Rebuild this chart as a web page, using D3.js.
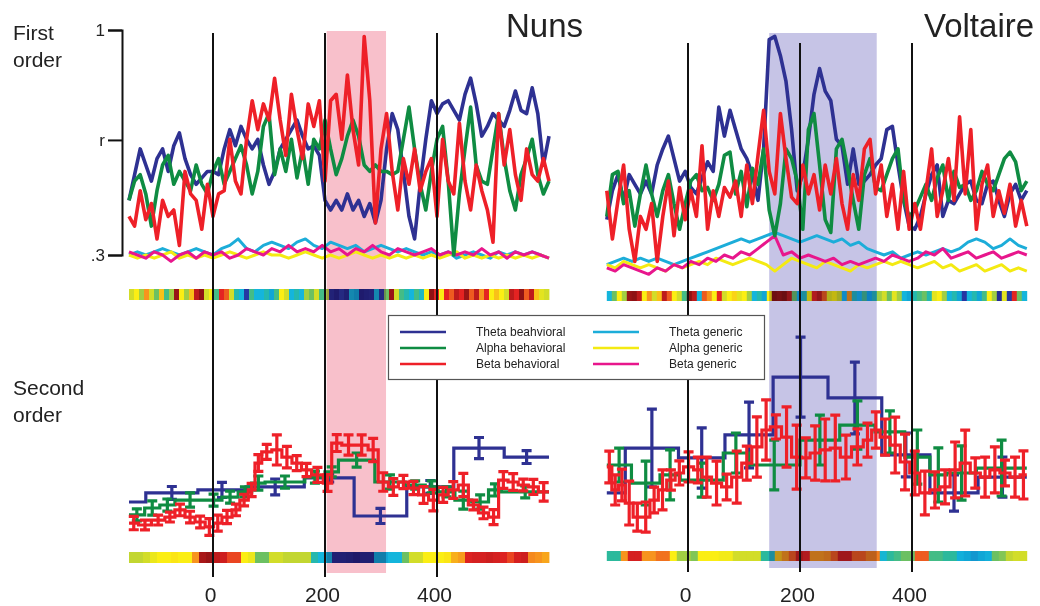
<!DOCTYPE html>
<html>
<head>
<meta charset="utf-8">
<script src="https://cdn.jsdelivr.net/npm/d3@7"></script>
<style>
  body { margin: 0; background: #fff; }
  svg { display: block; font-family: "Liberation Sans", Arial, sans-serif; }
</style>
</head>
<body>
<svg id="chart" width="1040" height="606"></svg>
<script>
// ---- first order traces (r), sampled every 10 ms (behavioural) / 15 ms (generic)
const behStep = 10, genStep = 15;
const nunsStart = -150, voltStart = -145;

const nunsThetaBeh = [.47,.55,.63,.58,.53,.60,.63,.56,.64,.68, .60,.55,.52,.54,.56,.56,.55,.63,.69,.64,
  .70,.66,.63,.66,.58,.52,.56,.63,.66,.69, .72,.67,.63,.64,.61,.47,.44,.47,.44,.49,
  .44,.47,.42,.46,.40,.47,.63,.74,.69,.56, .42,.35,.52,.66,.78,.74,.77,.78,.75,.72,
  .80,.85,.77,.67,.70,.74,.72,.70,.75,.81, .75,.74,.82,.74,.58,.67];
const nunsAlphaBeh = [.47,.53,.55,.49,.39,.50,.58,.61,.52,.56, .53,.50,.58,.52,.49,.56,.60,.52,.56,.60,
  .64,.58,.49,.56,.70,.74,.55,.63,.56,.66, .54,.63,.52,.66,.63,.72,.63,.55,.60,.67,
  .72,.67,.58,.56,.58,.56,.56,.55,.56,.66, .76,.63,.52,.44,.56,.66,.70,.53,.30,.49,
  .63,.76,.58,.53,.52,.63,.74,.60,.50,.44, .55,.60,.66,.55,.49,.53];
const nunsBetaBeh = [.42,.39,.50,.41,.46,.35,.47,.42,.44,.33, .56,.49,.47,.38,.52,.42,.49,.50,.66,.53,
  .49,.66,.78,.69,.77,.72,.85,.72,.61,.80, .69,.60,.77,.70,.78,.53,.78,.80,.66,.86,
  .69,.58,.98,.78,.40,.63,.74,.56,.44,.60, .52,.63,.50,.56,.60,.42,.66,.53,.49,.71,
  .53,.44,.58,.50,.44,.34,.74,.58,.69,.55, .47,.63,.55,.53,.60,.53];
const nunsThetaGen = [.30,.31,.30,.31,.32,.31,.30,.31,.32,.31, .30,.32,.33,.35,.32,.31,.33,.34,.33,.32,
  .34,.35,.33,.32,.34,.33,.32,.33,.31,.32, .33,.32,.31,.32,.31,.30,.31,.30,.31,.29,
  .30,.31,.30,.29,.31,.30,.31,.30,.31,.30,.29];
const nunsAlphaGen = [.30,.29,.30,.29,.30,.31,.29,.30,.29,.30, .29,.30,.31,.30,.29,.30,.31,.30,.30,.29,
  .30,.31,.30,.29,.30,.29,.30,.31,.30,.29, .30,.29,.30,.29,.30,.29,.30,.29,.30,.31,
  .29,.30,.29,.30,.29,.30,.29,.30,.29,.30,.29];
const nunsBetaGen = [.31,.30,.29,.31,.30,.28,.30,.31,.29,.31, .30,.31,.29,.30,.32,.31,.30,.32,.31,.33,
  .31,.32,.31,.33,.31,.32,.30,.32,.31,.33, .31,.30,.32,.31,.30,.31,.32,.30,.31,.30,
  .31,.30,.32,.30,.31,.29,.31,.30,.31,.30,.29];

const voltThetaBeh = [.41,.50,.55,.47,.55,.52,.49,.53,.49,.58, .63,.67,.60,.53,.56,.51,.49,.54,.59,.56,
  .76,.67,.75,.69,.63,.60,.55,.47,.63,.97, .98,.92,.84,.69,.50,.55,.66,.80,.88,.81,
  .78,.66,.64,.52,.63,.52,.53,.55,.58,.60, .69,.70,.58,.47,.39,.38,.42,.49,.55,.58,
  .42,.47,.46,.49,.52,.53,.47,.46,.52,.53, .47,.42,.49,.52,.47,.50];
const voltAlphaBeh = [.42,.55,.56,.46,.50,.39,.49,.58,.49,.42, .50,.55,.46,.38,.46,.53,.55,.50,.51,.47,
  .52,.61,.62,.49,.56,.45,.57,.52,.63,.44, .36,.46,.63,.60,.53,.38,.69,.74,.58,.41,
  .37,.63,.66,.57,.47,.38,.55,.60,.51,.50, .55,.60,.63,.47,.42,.44,.48,.52,.47,.54,
  .58,.47,.56,.51,.52,.47,.50,.56,.52,.50, .55,.60,.62,.59,.50,.53];
const voltBetaBeh = [.50,.35,.47,.58,.38,.28,.42,.38,.46,.28, .42,.53,.36,.51,.41,.50,.42,.64,.38,.50,
  .42,.51,.48,.53,.42,.58,.46,.61,.75,.56, .49,.74,.60,.48,.46,.58,.49,.55,.44,.58,
  .49,.60,.46,.38,.55,.47,.63,.66,.49,.58, .42,.52,.38,.56,.38,.46,.38,.50,.63,.42,
  .50,.60,.47,.73,.49,.69,.38,.52,.58,.42, .50,.43,.52,.39,.47,.39];
const voltThetaGen = [.27,.28,.29,.28,.29,.28,.29,.28,.27,.28, .29,.30,.31,.32,.33,.34,.35,.34,.35,.36,
  .37,.36,.35,.34,.35,.36,.35,.34,.35,.33, .34,.32,.31,.30,.31,.29,.30,.31,.30,.31,
  .32,.31,.32,.34,.35,.34,.32,.33,.35,.33,.32];
const voltAlphaGen = [.27,.26,.28,.27,.26,.27,.26,.25,.27,.26, .27,.28,.27,.29,.28,.27,.28,.29,.28,.27,
  .25,.27,.29,.28,.27,.26,.28,.27,.26,.25, .27,.26,.27,.28,.27,.28,.27,.26,.27,.28,
  .26,.27,.25,.26,.27,.25,.26,.27,.25,.26,.25];
const voltBetaGen = [.26,.25,.27,.26,.25,.24,.26,.25,.27,.26, .28,.27,.29,.28,.30,.29,.31,.30,.32,.34,
  .36,.30,.31,.29,.30,.29,.28,.29,.27,.28, .27,.28,.29,.28,.30,.29,.28,.29,.31,.30,
  .32,.29,.30,.31,.29,.30,.31,.29,.30,.31,.30];

// ---- second order: bin edges (ms), bin means and error half-widths (arbitrary units)
const nunsThetaEdges = [-150,-120,-27,59,163,252,346,430,520,600];
const nunsThetaMean = [20.0,24.2,25.6,27.0,31.2,13.5,27.0,45.1,40.9];
const nunsThetaErr = [0,3.0,3.5,3.7,1.9,3.5,3.0,4.9,3.0];
const nunsAlphaEdges = [-150,-122,-95,-68,-14,16,45,69,93,164,200,224,289,343,379,402,432,462,492,515,600];
const nunsAlphaMean = [14.0,17.2,18.6,20.9,20.9,22.3,24.7,28.8,29.3,31.6,34.0,39.5,29.3,27.9,27.0,24.7,20.9,20.0,25.6,24.7];
const nunsAlphaErr = [2.8,3.3,2.8,3.3,2.8,2.8,2.3,3.3,2.8,2.8,2.3,3.3,3.3,1.9,2.8,2.3,4.2,3.3,2.8,2.8];
const nunsBetaEdges = [-150,-133,-110,-86,-68,-50,-32,-14,1,16,34,48,63,75,87,105,123,141,158,176,197,212,
  230,254,277,295,313,331,349,367,385,402,420,438,456,474,492,510,527,545,563,581,600];
const nunsBetaMean = [10.2,9.3,11.6,13.0,16.3,13.0,10.7,8.4,10.2,13.0, 16.3,20.9,25.6,38.1,43.3,44.2,40.9,38.1,34.9,32.6,
  28.8,47.4,46.5,46.5,44.2,29.3,27.0,29.3,26.5,23.3, 20.9,23.3,25.6,27.9,18.6,14.9,13.0,30.2,29.3,27.9, 27.0,24.7];
const nunsBetaErr = [3.1,2.3,2.3,2.3,2.7,2.7,2.7,3.9,3.7,3.1, 2.7,2.7,3.1,3.9,3.5,7.0,5.0,3.5,3.1,3.5,
  3.9,3.9,4.7,4.7,5.4,4.3,3.9,3.1,3.1,3.9, 5.0,3.5,3.9,5.4,2.3,2.7,3.5,3.9,3.9,2.7, 3.5,4.3];

const voltThetaEdges = [-145,-112,-17,66,152,250,346,432,518,605];
const voltThetaMean = [24.2,45.1,40.5,51.2,78.1,68.4,41.9,24.2,31.6];
const voltThetaErr = [0,18.1,14.0,15.3,18.6,16.7,10.2,8.4,9.3];
const voltAlphaEdges = [-145,-101,-50,-14,63,108,200,271,334,387,432,462,515,605];
const voltAlphaMean = [37.2,28.8,32.6,30.2,42.8,37.2,48.8,55.8,52.6,40.9,32.6,33.5,35.8];
const voltAlphaErr = [7.9,10.2,11.6,7.9,9.3,11.6,11.6,11.2,9.8,12.6,12.6,12.6,13.0];
const voltBetaEdges = [-145,-136,-124,-112,-98,-83,-68,-53,-38,-23,-8,10,25,42,60,78,96,114,132,147,167,185,
  203,218,236,254,272,292,313,328,343,361,379,396,414,432,450,468,486,504,522,539,557,575,593,605];
const voltBetaMean = [36.3,25.6,27.9,19.5,13.0,13.0,20.9,25.6,30.2,33.5, 36.3,34.9,31.6,28.8,27.0,31.6,38.1,45.6,53.5,54.9,
  50.2,40.9,40.5,42.8,44.2,45.1,40.9,45.6,48.8,53.5, 50.2,46.5,38.6,33.5,24.2,25.6,27.0,34.9,38.1,33.5,
  31.6,34.9,33.5,31.6,32.6];
const voltBetaErr = [7.4,7.0,7.4,10.2,6.5,7.0,6.0,9.3,4.7,5.6, 7.0,6.0,9.3,10.2,6.0,12.1,7.9,14.0,14.0,5.6,
  14.0,14.9,9.3,12.6,14.4,15.3,10.2,8.4,7.9,8.4, 8.4,13.0,13.0,10.2,10.2,8.4,7.9,13.0,15.3,7.0,
  9.3,10.7,6.0,9.3,11.2];

// ---- colour strips (0 = dark blue ... 1 = dark red)
const nunsStripes = [.6,.65,.55,.75,.6,.5,.7,.45,.55,.95, .65,.55,.7,.9,.97,.6,.65,.45,.85,.8,
  .6,.4,.35,.15,.45,.35,.35,.4,.3,.45, .65,.6,.35,.4,.35,.55,.5,.6,.45,.55,
  .1,.05,.15,.08,.35,.3,.05,.08,.1,.35, .15,.5,.95,.6,.45,.4,.35,.45,.38,.65,
  .97,.85,.65,.85,.8,.9,.85,.95,.8,.9, .75,.85,.65,.7,.65,.6,.9,.85,.97,.8, .9,.7,.62,.6];
const voltStripes = [.35,.5,.65,.55,.95,.97,.9,.65,.75,.6, .7,.9,.8,.65,.6,.45,.97,.9,.35,.8,
  .75,.65,.85,.6,.65,.68,.62,.65,.55,.35, .4,.3,.65,.97,.95,.98,.9,.5,.35,.4,
  .65,.85,.9,.8,.62,.65,.6,.35,.75,.4, .35,.45,.3,.4,.55,.6,.5,.62,.55,.35,
  .3,.4,.45,.5,.4,.62,.65,.55,.35,.4, .3,.15,.35,.4,.3,.45,.65,.55,.1,.62, .15,.85,.5,.35];
const nunsBlocks = [.58,.58,.6,.63,.65,.65,.66,.65,.65,.75, .93,.95,.9,.88,.82,.82,.65,.63,.5,.5,
  .6,.6,.58,.58,.58,.58,.4,.35,.32,.08, .08,.06,.03,.07,.07,.3,.3,.35,.35,.5,
  .6,.6,.65,.65,.65,.66,.72,.74,.86,.87, .87,.88,.87,.86,.82,.87,.88,.76,.75,.73];
const voltBlocks = [.42,.42,.75,.87,.87,.75,.75,.78,.78,.65, .55,.55,.52,.65,.65,.65,.64,.64,.6,.6,
  .6,.6,.42,.4,.7,.75,.8,.88,.85,.75, .75,.76,.8,.88,.88,.8,.8,.77,.77,.36,
  .42,.45,.5,.5,.8,.8,.45,.45,.42,.42, .33,.3,.28,.3,.33,.5,.52,.58,.6,.6];

const xTicks = [0, 200, 400];
const rTicks = [0.3, 0.658, 1];
const rLabels = ['.3', 'r', '1'];
const legendNames = ['Theta beahvioral', 'Alpha behavioral', 'Beta behavioral',
                     'Theta generic', 'Alpha generic', 'Beta generic'];

const colors = {
  thetaBeh: '#2e3192', alphaBeh: '#0f8c42', betaBeh: '#ee2028',
  thetaGen: '#1cadd9', alphaGen: '#f4ea12', betaGen: '#e8168c'
};
const legendColors = [colors.thetaBeh, colors.alphaBeh, colors.betaBeh,
                      colors.thetaGen, colors.alphaGen, colors.betaGen];

const jet = d3.scaleLinear()
  .domain([0, .15, .3, .35, .42, .5, .58, .65, .75, .85, .95, 1])
  .range(['#1c1b7c', '#2636a2', '#10a6d6', '#14b5dc', '#2cb99c', '#6cc062', '#c2d631',
          '#fbee14', '#f7941e', '#e42322', '#991416', '#7e1011'])
  .clamp(true);

const svg = d3.select('#chart');
svg.append('rect').attr('width', 1040).attr('height', 606).attr('fill', '#fff');

const yTop = d3.scaleLinear().domain([0.3, 1]).range([255, 30]);
const yBot = d3.scaleLinear().domain([0, 100]).range([545, 330]);

// step path through bin edges
function stepPoints(edges, vals) {
  const pts = [];
  vals.forEach((v, i) => { pts.push([edges[i], v]); pts.push([edges[i + 1], v]); });
  return pts;
}

function drawPanel(p) {
  const g = svg.append('g');
  const x = d3.scaleLinear().domain([0, 400]).range(p.xRange);

  // shaded window
  g.append('rect')
    .attr('x', x(p.shade[0])).attr('y', p.shadeY[0])
    .attr('width', x(p.shade[1]) - x(p.shade[0]))
    .attr('height', p.shadeY[1] - p.shadeY[0])
    .attr('fill', p.shadeColor);

  // colour strips
  [[p.stripes, p.stripY], [p.blocks, p.blockY]].forEach(([vals, yy]) => {
    const band = d3.scaleBand().domain(d3.range(vals.length))
      .range([x(p.span[0]), x(p.span[1])]);
    g.append('g').style('mix-blend-mode', 'multiply')
      .selectAll('rect').data(vals).join('rect')
      .attr('x', (d, i) => band(i))
      .attr('y', yy[0])
      .attr('width', band.bandwidth() + 0.4)
      .attr('height', yy[1])
      .attr('fill', d => jet(d));
  });

  // first order traces
  const trace = (vals, start, step, color, w) => {
    const line = d3.line()
      .x((d, i) => x(start + i * step))
      .y(d => yTop(d));
    g.append('path').datum(vals)
      .attr('d', line)
      .attr('fill', 'none')
      .attr('stroke', color)
      .attr('stroke-width', w)
      .attr('stroke-linejoin', 'round');
  };
  trace(p.thetaGen, p.start, genStep, colors.thetaGen, 3);
  trace(p.alphaGen, p.start, genStep, colors.alphaGen, 3);
  trace(p.betaGen, p.start, genStep, colors.betaGen, 3);
  trace(p.thetaBeh, p.start, behStep, colors.thetaBeh, 3.6);
  trace(p.alphaBeh, p.start, behStep, colors.alphaBeh, 3.6);
  trace(p.betaBeh, p.start, behStep, colors.betaBeh, 3.6);

  // second order steps with error bars
  const step = (edges, mean, err, color) => {
    const line = d3.line().x(d => x(d[0])).y(d => yBot(d[1]));
    g.append('path').datum(stepPoints(edges, mean))
      .attr('d', line)
      .attr('fill', 'none')
      .attr('stroke', color)
      .attr('stroke-width', 3.2);
    const bars = mean.map((m, i) => ({ c: (edges[i] + edges[i + 1]) / 2, m: m, e: err[i] }))
      .filter(d => d.e > 0);
    const eb = g.append('g').attr('stroke', color).attr('stroke-width', 3.2).attr('fill', 'none');
    eb.selectAll('path').data(bars).join('path')
      .attr('d', d => {
        const cx = x(d.c), y1 = yBot(d.m + d.e), y2 = yBot(d.m - d.e);
        return `M${cx},${y1}V${y2}M${cx - 5},${y1}H${cx + 5}M${cx - 5},${y2}H${cx + 5}`;
      });
  };
  step(p.thetaEdges, p.thetaMean, p.thetaErr, colors.thetaBeh);
  step(p.alphaEdges, p.alphaMean, p.alphaErr, colors.alphaBeh);
  step(p.betaEdges, p.betaMean, p.betaErr, colors.betaBeh);

  // event markers
  g.append('g').selectAll('line').data(xTicks).join('line')
    .attr('x1', d => x(d)).attr('x2', d => x(d))
    .attr('y1', p.markY[0]).attr('y2', p.markY[1])
    .attr('stroke', '#111').attr('stroke-width', 2);

  // time axis labels
  const ax = g.append('g')
    .attr('transform', 'translate(-3,585)')
    .call(d3.axisBottom(x).tickValues(xTicks).tickSize(0).tickPadding(2));
  ax.select('.domain').remove();
  ax.selectAll('text').attr('font-size', 21).attr('fill', '#222')
    .attr('font-family', '"Liberation Sans", Arial, sans-serif');

  // title
  g.append('text').attr('x', p.titleX).attr('y', 37)
    .attr('font-size', 33).attr('fill', '#222').text(p.title);
}

drawPanel({
  title: 'Nuns', titleX: 506, xRange: [213, 437], span: [-150, 600], start: nunsStart,
  shade: [203, 309], shadeY: [31, 573], shadeColor: '#f8c0cb',
  stripY: [289, 11], blockY: [552, 11], markY: [33, 577],
  thetaBeh: nunsThetaBeh, alphaBeh: nunsAlphaBeh, betaBeh: nunsBetaBeh,
  thetaGen: nunsThetaGen, alphaGen: nunsAlphaGen, betaGen: nunsBetaGen,
  thetaEdges: nunsThetaEdges, thetaMean: nunsThetaMean, thetaErr: nunsThetaErr,
  alphaEdges: nunsAlphaEdges, alphaMean: nunsAlphaMean, alphaErr: nunsAlphaErr,
  betaEdges: nunsBetaEdges, betaMean: nunsBetaMean, betaErr: nunsBetaErr,
  stripes: nunsStripes, blocks: nunsBlocks
});

drawPanel({
  title: 'Voltaire', titleX: 924, xRange: [688, 912], span: [-145, 605], start: voltStart,
  shade: [145, 337], shadeY: [33, 568], shadeColor: '#c6c4e6',
  stripY: [291, 10], blockY: [551, 10], markY: [43, 572],
  thetaBeh: voltThetaBeh, alphaBeh: voltAlphaBeh, betaBeh: voltBetaBeh,
  thetaGen: voltThetaGen, alphaGen: voltAlphaGen, betaGen: voltBetaGen,
  thetaEdges: voltThetaEdges, thetaMean: voltThetaMean, thetaErr: voltThetaErr,
  alphaEdges: voltAlphaEdges, alphaMean: voltAlphaMean, alphaErr: voltAlphaErr,
  betaEdges: voltBetaEdges, betaMean: voltBetaMean, betaErr: voltBetaErr,
  stripes: voltStripes, blocks: voltBlocks
});

// r axis bracket
const ya = svg.append('g')
  .attr('transform', 'translate(122,0)')
  .call(d3.axisLeft(yTop).tickValues(rTicks).tickSize(14).tickSizeOuter(14)
    .tickFormat((d, i) => rLabels[i]));
ya.selectAll('path, line').attr('stroke', '#111').attr('stroke-width', 2);
ya.selectAll('text').attr('font-size', 17).attr('fill', '#222')
  .attr('font-family', '"Liberation Sans", Arial, sans-serif');

// row labels
const rowLabel = (lines, y0) => {
  const t = svg.append('text').attr('font-size', 21).attr('fill', '#222');
  lines.forEach((s, i) => t.append('tspan').attr('x', 13).attr('y', y0 + i * 27).text(s));
};
rowLabel(['First', 'order'], 40);
rowLabel(['Second', 'order'], 395);

// legend
const lg = svg.append('g');
lg.append('rect').attr('x', 388.5).attr('y', 315.5).attr('width', 376).attr('height', 64)
  .attr('fill', '#fff').attr('stroke', '#555').attr('stroke-width', 1.2);
legendNames.forEach((name, i) => {
  const col = Math.floor(i / 3), row = i % 3;
  const lx = col === 0 ? 400 : 593, tx = col === 0 ? 476 : 669;
  const ly = 332 + row * 16;
  lg.append('line').attr('x1', lx).attr('x2', lx + 46).attr('y1', ly).attr('y2', ly)
    .attr('stroke', legendColors[i]).attr('stroke-width', 2.5);
  lg.append('text').attr('x', tx).attr('y', ly + 4).attr('font-size', 12)
    .attr('fill', '#222').text(name);
});
</script>
</body>
</html>
